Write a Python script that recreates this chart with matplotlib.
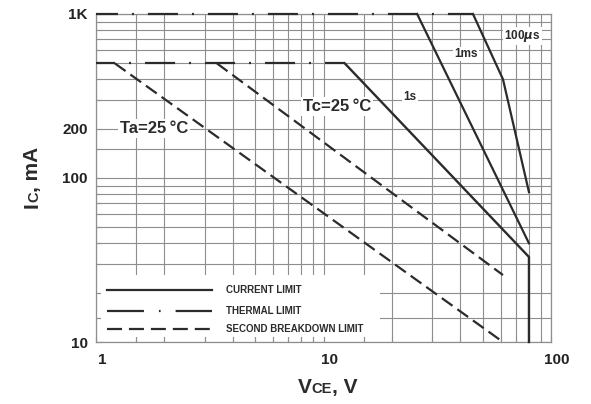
import matplotlib
matplotlib.use("Agg")
import matplotlib.pyplot as plt
import matplotlib.transforms as mtransforms
from matplotlib.patches import Rectangle
from matplotlib.lines import Line2D

plt.rcParams["font.family"] = ["Liberation Sans", "DejaVu Sans"]
plt.rcParams["font.weight"] = "bold"
plt.rcParams["lines.scale_dashes"] = False

# safe operating area curves (VCE in V, IC in mA)
vce_top = [1, 45.4]
ic_top = [1000, 1000]
vce_dc_flat = [1, 12.4]
ic_dc_flat = [500, 500]
vce_1s = [12.4, 80, 80]
ic_1s = [500, 33, 10]
vce_1ms = [25.8, 80]
ic_1ms = [1000, 40]
vce_100us = [45.4, 61.5, 80]
ic_100us = [1000, 400, 82]
vce_sb_ta = [1.21, 61.5]
ic_sb_ta = [500, 10]
vce_sb_tc = [3.4, 61.5]
ic_sb_tc = [500, 25.6]

x_major = [1, 10, 100]
x_major_labels = ["1", "10", "100"]
x_minor = [1.5, 2, 3, 4, 5, 6, 7, 8, 9, 15, 20, 30, 40, 50, 60, 70, 80, 90]
y_major = [10, 100, 200, 1000]
y_major_labels = ["10", "100", "200", "1K"]
y_minor = [14, 20, 30, 40, 50, 60, 70, 80, 90, 150, 300, 400, 500, 600, 700, 800, 900]

legend_names = ["CURRENT LIMIT", "THERMAL LIMIT", "SECOND BREAKDOWN LIMIT"]

ink = "#2b2b2b"
gridc = "#8e8e8e"
thermal = (21.6, 10.1, 1.4, 10.1)
breakdown = (0, (9.5, 4.3))

fig = plt.figure(figsize=(5.91, 4.04), dpi=100)
ax = fig.add_axes([96 / 591, 62 / 404, 455 / 591, 328 / 404])
ax.set_xscale("log")
ax.set_yscale("log")
ax.set_xlim(1, 100)
ax.set_ylim(10, 1000)
ax.set_axisbelow(True)

ax.set_xticks(x_major)
ax.set_xticklabels(x_major_labels)
ax.set_xticks(x_minor, minor=True)
ax.set_xticklabels([], minor=True)
ax.set_yticks(y_major)
ax.set_yticklabels(y_major_labels)
ax.set_yticks(y_minor, minor=True)
ax.set_yticklabels([], minor=True)
ax.tick_params(which="both", direction="in", length=4, width=0.8, color=gridc,
               labelsize=11, labelcolor="#222222")
ax.tick_params(axis="x", which="major", pad=8)
ax.tick_params(axis="y", which="major", pad=6)
ax.grid(True, which="both", color=gridc, lw=0.8)
for s in ax.spines.values():
    s.set_color(gridc)
    s.set_linewidth(0.9)

shift = mtransforms.ScaledTranslation(6 / 100, 0, fig.dpi_scale_trans)
for lab in ax.get_xticklabels():
    lab.set_transform(lab.get_transform() + shift)

# curves
ax.plot(vce_top, ic_top, color=ink, lw=1.6, ls=(5.8, thermal), zorder=3, clip_on=False)
ax.plot(vce_dc_flat, ic_dc_flat, color=ink, lw=1.6, ls=(7.9, thermal), zorder=3)
ax.plot(vce_1s, ic_1s, color=ink, lw=1.7, zorder=3, clip_on=False)
ax.plot(vce_1ms, ic_1ms, color=ink, lw=1.6, zorder=3, clip_on=False)
ax.plot(vce_100us, ic_100us, color=ink, lw=1.6, zorder=3, clip_on=False)
ax.plot(vce_sb_ta, ic_sb_ta, color=ink, lw=1.6, ls=breakdown, zorder=3, clip_on=False)
ax.plot(vce_sb_tc, ic_sb_tc, color=ink, lw=1.6, ls=breakdown, zorder=3)

box = dict(boxstyle="square,pad=0.12", fc="white", ec="none")
ax.text(1.8, 200, "Ta=25\u2009°C", fontsize=12, color=ink, ha="center", va="center",
        bbox=box, zorder=2)
ax.text(11.5, 271, "Tc=25\u2009°C", fontsize=12, color=ink, ha="center", va="center",
        bbox=box, zorder=2)
ax.text(24.0, 310, "1s", fontsize=8.5, color=ink, ha="center", va="center",
        bbox=box, zorder=2)
ax.text(42.3, 570, "1ms", fontsize=8.5, color=ink, ha="center", va="center",
        bbox=box, zorder=2)
ax.text(74.6, 735, r"100$\mu$s", fontsize=8.5, color=ink, ha="center", va="center",
        bbox=box, zorder=2)

# legend drawn by hand on a white patch
ax.add_patch(Rectangle((0.011, 0.016), 0.613, 0.188, transform=ax.transAxes,
                       fc="white", ec="none", zorder=1))
leg_styles = ["-", (0, (26.6, 10.8, 1.2, 10.8)), (0, (10.8, 5.0))]
leg_y = [0.1585, 0.0945, 0.0396]
for name, style, yy in zip(legend_names, leg_styles, leg_y):
    ax.add_line(Line2D([0.024, 0.255], [yy, yy], transform=ax.transAxes, color=ink,
                       lw=1.6, ls=style, zorder=2))
    ax.text(0.285, yy, name, transform=ax.transAxes, fontsize=7, color=ink,
            ha="left", va="center", zorder=2)

# axis titles with small-cap subscripts
t1 = fig.text(298 / 591, 11 / 404, "V", fontsize=15, color=ink, va="baseline")
t2 = ax.annotate("CE", xy=(1, 11 / 404), xycoords=(t1, "figure fraction"),
                 fontsize=10.5, color=ink, va="baseline", ha="left", annotation_clip=False)
ax.annotate(", V", xy=(1, 11 / 404), xycoords=(t2, "figure fraction"),
            fontsize=15, color=ink, va="baseline", ha="left", annotation_clip=False)

y1 = fig.text(38 / 591, 196 / 404, "I", fontsize=15, color=ink, rotation=90,
              rotation_mode="anchor", ha="left", va="baseline")
y2 = ax.annotate("C", xy=(38 / 591, 1), xycoords=("figure fraction", y1),
                 fontsize=10.5, color=ink, rotation=90, rotation_mode="anchor",
                 ha="left", va="baseline", annotation_clip=False)
ax.annotate(", mA", xy=(38 / 591, 1), xycoords=("figure fraction", y2),
            fontsize=15, color=ink, rotation=90, rotation_mode="anchor",
            ha="left", va="baseline", annotation_clip=False)

fig.savefig("out.png", dpi=100)
